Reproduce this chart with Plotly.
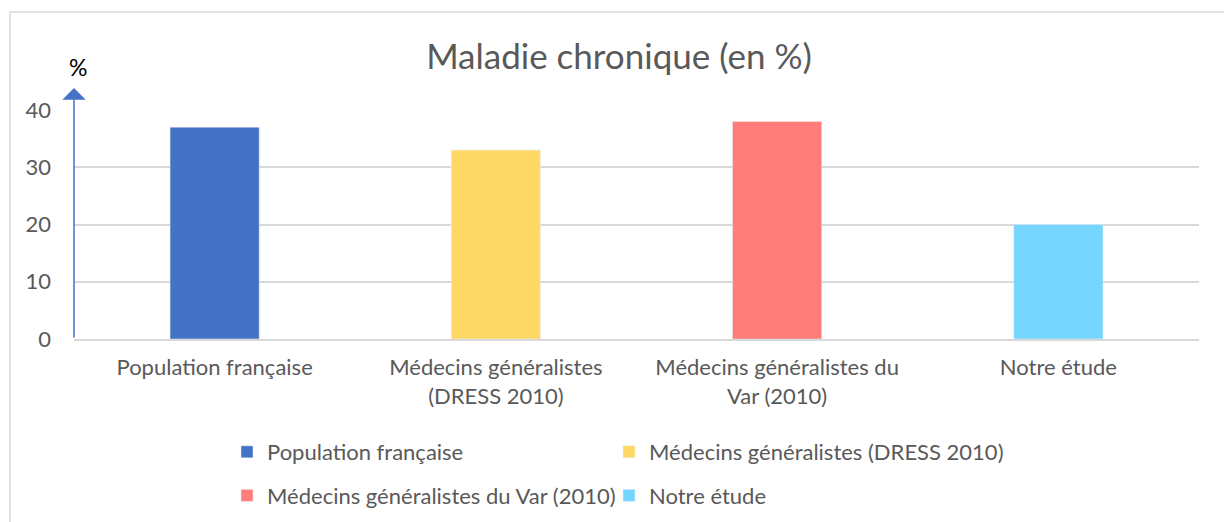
import plotly.graph_objects as go

categories = ["Population française", "Médecins généralistes (DRESS 2010)",
              "Médecins généralistes du Var (2010)", "Notre étude"]
tick_labels = ["Population française", "Médecins généralistes<br>(DRESS 2010)",
               "Médecins généralistes du<br>Var (2010)", "Notre étude"]
values = [37, 33, 38, 20]
colors = ["#4472C4", "#FFD966", "#FF7C79", "#75D5FF"]
legend_ids = ["legend", "legend2", "legend", "legend2"]

FONT = "Lato"
GREY = "#595959"

fig = go.Figure()
for i, (cat, lab, v, c, lg) in enumerate(zip(categories, tick_labels, values, colors, legend_ids)):
    fig.add_trace(go.Bar(x=[lab], y=[v], name=cat, marker_color=c,
                         width=0.317, legend=lg, legendgroup=f"g{i}",
                         hoverinfo="x+y"))

W, H = 1224, 522
L, R, T, B = 74, 25, 110, 183
pw, ph = W - L - R, H - T - B

def px(xp):
    return (xp - L) / pw

def py(yp):
    return (H - B - yp) / ph

leg_common = dict(orientation="v", yref="container", xanchor="left", yanchor="top",
                  font=dict(size=22, color=GREY), bgcolor="rgba(0,0,0,0)",
                  tracegroupgap=12)

fig.update_layout(
    width=W, height=H,
    margin=dict(l=L, r=R, t=T, b=B, autoexpand=False),
    paper_bgcolor="white", plot_bgcolor="white",
    barmode="overlay",
    font=dict(family=FONT, color=GREY, size=22),
    title=dict(text="Maladie chronique (en %)", x=619 / W, y=1 - 57 / H,
               xanchor="center", yanchor="middle",
               font=dict(family=FONT, size=35, color=GREY)),
    xaxis=dict(showgrid=False, showline=True, linecolor="#D9D9D9", linewidth=1.5,
               ticks="", tickfont=dict(size=22, color=GREY), fixedrange=True,
               automargin=False, ticklabelstandoff=8),
    yaxis=dict(range=[0, 40], tickvals=[0, 10, 20, 30, 40], showgrid=True,
               gridcolor="#D9D9D9", gridwidth=1.5, zeroline=False, showline=False,
               ticks="", ticklabelstandoff=22, automargin=False, fixedrange=True,
               tickfont=dict(size=22, color=GREY)),
    showlegend=True,
    legend=dict(x=px(227), y=1 - 431 / H, **leg_common),
    legend2=dict(x=px(609), y=1 - 431 / H, **leg_common),
)

# Y axis drawn as an arrow
fig.add_annotation(x=0, xref="paper", y=py(88), yref="paper", ax=0, ay=251,
                   axref="pixel", ayref="pixel", text="", showarrow=True,
                   arrowhead=1, arrowsize=2.6, arrowwidth=1.5, arrowcolor="#4472C4")
fig.add_annotation(x=px(78), y=py(67), xref="paper", yref="paper", text="%",
                   xanchor="center", yanchor="middle",
                   showarrow=False, font=dict(family=FONT, size=23, color="black"))

# outer chart border
fig.add_shape(type="rect", xref="paper", yref="paper",
              x0=px(10), x1=px(1240), y0=py(540), y1=py(12),
              line=dict(color="#D9D9D9", width=1.5), fillcolor="rgba(0,0,0,0)", layer="below")

fig.write_html("out.html", config={"displayModeBar": False},
               post_script="document.body.style.margin='0';")
